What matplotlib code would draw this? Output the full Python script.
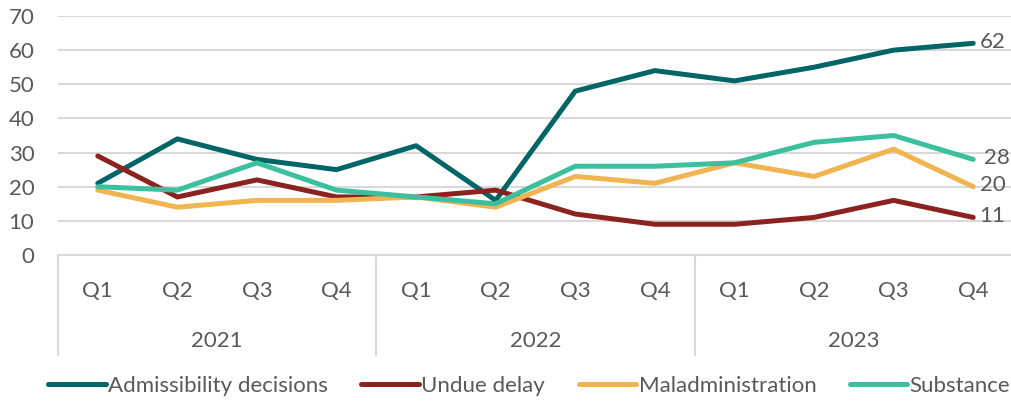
import matplotlib.pyplot as plt

quarters = ["Q1", "Q2", "Q3", "Q4"] * 3
years = ["2021", "2022", "2023"]

admissibility = [21, 34, 28, 25, 32, 16, 48, 54, 51, 55, 60, 62]
undue_delay = [29, 17, 22, 17, 17, 19, 12, 9, 9, 11, 16, 11]
maladministration = [19, 14, 16, 16, 17, 14, 23, 21, 27, 23, 31, 20]
substance = [20, 19, 27, 19, 17, 15, 26, 26, 27, 33, 35, 28]

series = [
    ("Admissibility decisions", admissibility, "#006567"),
    ("Undue delay", undue_delay, "#8B2220"),
    ("Maladministration", maladministration, "#F0B550"),
    ("Substance", substance, "#3CBF9C"),
]

plt.rcParams['font.family'] = ['Lato', 'DejaVu Sans']
text_color = "#595959"
fs = 16

fig = plt.figure(figsize=(10.12, 4.04), dpi=100)
ax = fig.add_axes([58 / 1012, 1 - 255 / 404, (1013 - 58) / 1012, (255 - 16) / 404])

x = list(range(len(quarters)))
for name, values, color in series:
    ax.plot(x, values, color=color, linewidth=3.6, label=name,
            solid_capstyle="round", solid_joinstyle="round", zorder=3)

# end labels
offsets = {"Admissibility decisions": 0.08, "Undue delay": 0.08,
           "Maladministration": 0.08, "Substance": 0.13}
for name, values, color in series:
    ax.text(x[-1] + offsets[name], values[-1] + 0.5, str(values[-1]), fontsize=fs,
            color=text_color, va="center", ha="left", clip_on=False)

ax.set_xlim(-0.5, len(x) - 0.5)
ax.set_ylim(0, 70)
ax.set_yticks(range(0, 71, 10))
ax.grid(axis="y", color="#D9D9D9", linewidth=1.5, zorder=0)
ax.set_axisbelow(True)
for s in ["top", "right", "left"]:
    ax.spines[s].set_visible(False)
ax.spines["bottom"].set_color("#D9D9D9")
ax.spines["bottom"].set_linewidth(1.5)
ax.tick_params(axis="y", length=0, labelsize=fs, labelcolor=text_color, pad=17)
ax.set_xticks([])

# two-level category axis drawn by hand
trans = ax.get_xaxis_transform()
for i, q in enumerate(quarters):
    ax.text(i, -0.15, q, transform=trans, ha="center", va="center",
            fontsize=fs, color=text_color, clip_on=False)
for j, yr in enumerate(years):
    ax.text(j * 4 + 1.5, -0.36, yr, transform=trans, ha="center", va="center",
            fontsize=fs, color=text_color, clip_on=False)
for b in [-0.5, 3.5, 7.5]:
    ax.plot([b, b], [0, -0.42], transform=trans, color="#D9D9D9",
            linewidth=1.5, clip_on=False)

fig.legend(loc="center", bbox_to_anchor=(0.523, 1 - 386 / 404), ncol=4,
           frameon=False, fontsize=fs, handlelength=2.6, handletextpad=0.1,
           columnspacing=1.5, labelcolor=text_color)

fig.savefig("out.png", dpi=100)
